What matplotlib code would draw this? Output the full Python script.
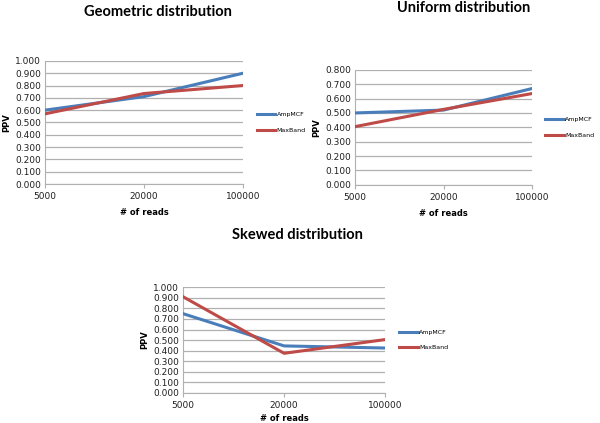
import matplotlib
matplotlib.use("Agg")
import matplotlib.pyplot as plt

reads = ["5000", "20000", "100000"]

geo_amp = [0.600, 0.710, 0.900]
geo_max = [0.570, 0.735, 0.800]

uni_amp = [0.500, 0.520, 0.670]
uni_max = [0.405, 0.525, 0.635]

skew_amp = [0.750, 0.445, 0.425]
skew_max = [0.910, 0.375, 0.505]

BLUE = "#4a7ebb"
RED = "#be4b48"
GRID = "#b0b0b0"


def draw_panel(fig, rect, amp, mx, ymax, title, title_xy, legend_xy, xlabelpad=5):
    ax = fig.add_axes(rect)
    x = list(range(len(reads)))
    ax.plot(x, amp, color=BLUE, lw=2.2, label="AmpMCF", zorder=3)
    ax.plot(x, mx, color=RED, lw=2.2, label="MaxBand", zorder=3)
    ax.set_xlim(0, len(reads) - 1)
    ax.set_ylim(0, ymax)
    n = int(round(ymax * 10)) + 1
    ax.set_yticks([i / 10 for i in range(n)])
    ax.set_yticklabels(["%.3f" % (i / 10) for i in range(n)])
    ax.set_xticks(x)
    ax.set_xticklabels(reads)
    ax.yaxis.grid(True, color=GRID, lw=0.9)
    ax.set_axisbelow(True)
    for s in ["top", "right"]:
        ax.spines[s].set_visible(False)
    for s in ["left", "bottom"]:
        ax.spines[s].set_color(GRID)
    ax.tick_params(axis="both", labelsize=6.5, colors=GRID, labelcolor="#202020",
                   length=3, width=0.8)
    ax.tick_params(axis="y", length=0, pad=3)
    ax.tick_params(axis="x", pad=3, direction="out")
    ax.set_xlabel("# of reads", fontsize=6, fontweight="bold", labelpad=xlabelpad)
    ax.set_ylabel("PPV", fontsize=6, fontweight="bold", labelpad=3)
    ax.legend(loc="center left", bbox_to_anchor=legend_xy, frameon=False,
              fontsize=4.5, handlelength=3.0, labelspacing=1.6, handletextpad=0.2)
    fig.text(title_xy[0], title_xy[1], title, ha="center", va="center",
             fontsize=10.5, fontweight="bold", family="Lato")
    return ax


fig = plt.figure(figsize=(6, 4.23), dpi=100)

draw_panel(fig, [0.075, 0.565, 0.33, 0.291], geo_amp, geo_max, 1.0,
           "Geometric distribution", (0.263, 0.972), (1.04, 0.5))
draw_panel(fig, [0.592, 0.563, 0.295, 0.272], uni_amp, uni_max, 0.8,
           "Uniform distribution", (0.772, 0.982), (1.04, 0.5))
draw_panel(fig, [0.305, 0.071, 0.337, 0.25], skew_amp, skew_max, 1.0,
           "Skewed distribution", (0.495, 0.444), (1.04, 0.5), xlabelpad=3)

fig.savefig("out.png", dpi=100)
